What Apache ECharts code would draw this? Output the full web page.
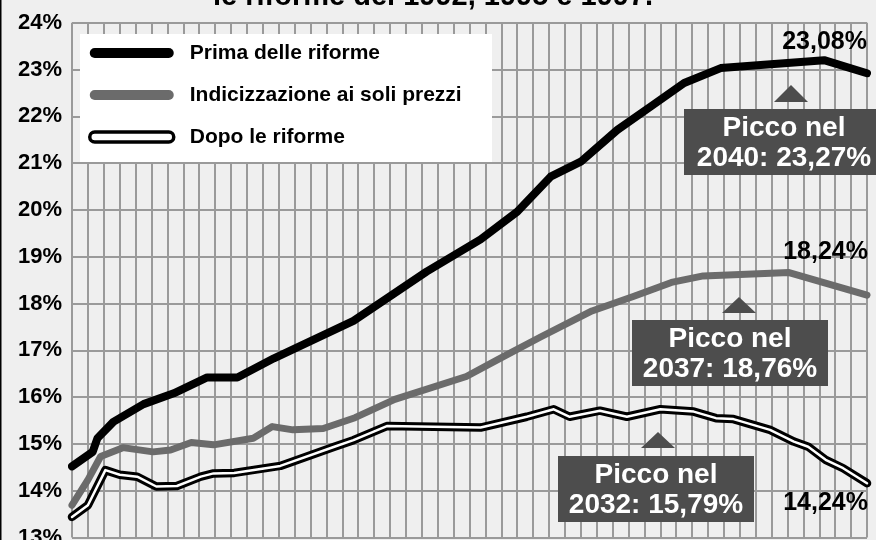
<!DOCTYPE html>
<html lang="it">
<head>
    <meta charset="UTF-8">
    <title>Spesa pensionistica / PIL</title>
    <script src="https://cdn.jsdelivr.net/npm/echarts@6/dist/echarts.min.js"></script>
    <style>
        html, body { margin: 0; padding: 0; background: #efefef; }
    </style>
</head>
<body>
    <div id="chart" style="width: 876px; height: 540px;"></div>

    <script>
        // valori (anno, % del PIL) - vertici delle spezzate
        var anniPrima = [1995, 1996.3, 1996.6, 1997.6, 1999.5, 2001.4, 2003.5, 2005.4, 2007.7, 2010.6,
            2012.7, 2015.2, 2017.3, 2020.7, 2023.0, 2025.1, 2027.0, 2029.3, 2031.4, 2033.5, 2035.8, 2042.3, 2045];
        var valoriPrima = [14.52, 14.83, 15.12, 15.47, 15.85, 16.08, 16.42, 16.42, 16.83, 17.29,
            17.63, 18.2, 18.68, 19.37, 19.96, 20.71, 21.03, 21.71, 22.21, 22.71, 23.03, 23.2, 22.92];

        var anniPrezzi = [1995, 1996.0, 1996.8, 1998.2, 2000.1, 2001.2, 2002.5, 2003.9, 2006.4, 2007.6,
            2008.9, 2010.8, 2012.8, 2015.3, 2019.8, 2022.1, 2024.5, 2027.7, 2030.3, 2032.7, 2034.7, 2040.1, 2045];
        var valoriPrezzi = [13.69, 14.23, 14.73, 14.92, 14.83, 14.87, 15.03, 14.98, 15.12, 15.37,
            15.3, 15.33, 15.56, 15.95, 16.44, 16.86, 17.29, 17.84, 18.15, 18.45, 18.59, 18.66, 18.18];

        var anniDopo = [1995, 1996.0, 1997.1, 1998.0, 1999.1, 2000.3, 2001.6, 2003.1, 2003.9, 2005.2,
            2008.1, 2011.5, 2012.7, 2014.8, 2020.7, 2023.6, 2025.3, 2026.3, 2028.2, 2029.9,
            2032.0, 2034.1, 2035.5, 2036.6, 2038.9, 2040.4, 2041.3, 2042.4, 2043.5, 2045];
        var valoriDopo = [13.44, 13.69, 14.44, 14.34, 14.30, 14.09, 14.10, 14.30, 14.37, 14.38,
            14.53, 14.94, 15.08, 15.38, 15.35, 15.58, 15.74, 15.58, 15.71, 15.58,
            15.74, 15.69, 15.55, 15.53, 15.30, 15.05, 14.94, 14.66, 14.48, 14.16];

        var nomiSerie = ['Prima delle riforme', 'Indicizzazione ai soli prezzi', 'Dopo le riforme'];

        var font = "'Liberation Sans', Arial, sans-serif";
        var grigioGriglia = '#9a9a9a';
        var grigioBox = '#4d4d4d';

        function coppie(anni, valori) {
            return anni.map(function (a, i) { return [a, valori[i]]; });
        }

        function linea(nome, dati, colore, spessore, z) {
            return {
                name: nome,
                type: 'line',
                data: dati,
                symbol: 'none',
                clip: false,
                z: z,
                lineStyle: { color: colore, width: spessore, cap: 'round', join: 'round' },
                itemStyle: { color: colore }
            };
        }

        function box(x, y, testo1, testo2, cx) {
            return [
                { type: 'rect', shape: { x: x, y: y, width: 196, height: 66 }, style: { fill: grigioBox }, z: 5 },
                { type: 'text', z: 6, style: { text: testo1, x: cx, y: y + 19, align: 'center', verticalAlign: 'middle',
                    font: 'bold 28px ' + font, fill: '#fff' } },
                { type: 'text', z: 6, style: { text: testo2, x: cx, y: y + 49, align: 'center', verticalAlign: 'middle',
                    font: 'bold 28px ' + font, fill: '#fff' } }
            ];
        }

        function triangolo(cx, yTop, yBase, meta) {
            return { type: 'polygon', z: 5, shape: { points: [[cx - meta, yBase], [cx + meta, yBase], [cx, yTop]] },
                style: { fill: grigioBox } };
        }

        function etichetta(testo, xr, y) {
            return { type: 'text', z: 6, style: { text: testo, x: xr, y: y, align: 'right', verticalAlign: 'middle',
                font: 'bold 25px ' + font, fill: '#000' } };
        }

        var pill = 'path://M5,0 L79,0 A5,5 0 0 1 79,10 L5,10 A5,5 0 0 1 5,0 Z';

        var chart = echarts.init(document.getElementById('chart'));

        var grafici = [
            { type: 'rect', shape: { x: 0, y: 0, width: 1.5, height: 540 }, style: { fill: '#000' }, z: 10 },
            { type: 'text', z: 6, style: { text: 'le riforme del 1992, 1995 e 1997.', x: 213, y: 11,
                verticalAlign: 'bottom', font: 'bold 29px ' + font, fill: '#000' } },
            { type: 'rect', shape: { x: 80, y: 34, width: 412, height: 128 }, style: { fill: '#fff' }, z: 3 },
            triangolo(791, 85, 102, 17),
            triangolo(739, 297, 313, 17),
            triangolo(658, 432, 448, 17),
            etichetta('23,08%', 867, 42),
            etichetta('18,24%', 868, 252),
            etichetta('14,24%', 868, 503)
        ].concat(box(684, 109, 'Picco nel', '2040: 23,27%', 784))
         .concat(box(632, 320, 'Picco nel', '2037: 18,76%', 730))
         .concat(box(558, 456, 'Picco nel', '2032: 15,79%', 656));

        chart.setOption({
            backgroundColor: '#efefef',
            animation: false,
            grid: { left: 72, right: 9, top: 22.7, bottom: 2.5, outerBoundsMode: 'none' },
            xAxis: {
                type: 'value',
                min: 1995,
                max: 2045,
                interval: 1,
                axisLine: { show: false },
                axisTick: { show: false },
                axisLabel: { show: false },
                splitLine: { show: true, lineStyle: { color: grigioGriglia, width: 2 } }
            },
            yAxis: {
                type: 'value',
                min: 13,
                max: 24,
                interval: 1,
                axisLine: { show: false },
                axisTick: { show: false },
                axisLabel: {
                    formatter: '{value}%',
                    margin: 10,
                    color: '#000',
                    fontFamily: font,
                    fontWeight: 'bold',
                    fontSize: 22,
                    padding: [4, 0, 0, 0]
                },
                splitLine: { show: true, lineStyle: { color: grigioGriglia, width: 2 } }
            },
            legend: {
                orient: 'vertical',
                left: 80,
                top: 34,
                padding: [7, 10, 13, 8],
                itemWidth: 84,
                itemHeight: 10,
                itemGap: 18,
                z: 4,
                selectedMode: false,
                textStyle: { color: '#000', fontFamily: font, fontWeight: 'bold', fontSize: 21, lineHeight: 24,
                    padding: [0, 0, 0, 11] },
                data: [
                    { name: nomiSerie[0], icon: pill, itemStyle: { color: '#000' } },
                    { name: nomiSerie[1], icon: pill, itemStyle: { color: '#6b6b6b' } },
                    { name: nomiSerie[2], icon: pill, itemStyle: { color: '#fff', borderColor: '#000', borderWidth: 3.5 } }
                ]
            },
            graphic: grafici,
            series: [
                linea(nomiSerie[1], coppie(anniPrezzi, valoriPrezzi), '#6b6b6b', 7, 2),
                linea(nomiSerie[2], coppie(anniDopo, valoriDopo), '#000', 8.5, 2),
                linea('dopo-interno', coppie(anniDopo, valoriDopo), '#fff', 2.5, 3),
                linea(nomiSerie[0], coppie(anniPrima, valoriPrima), '#000', 8, 2)
            ]
        });
    </script>
</body>
</html>
